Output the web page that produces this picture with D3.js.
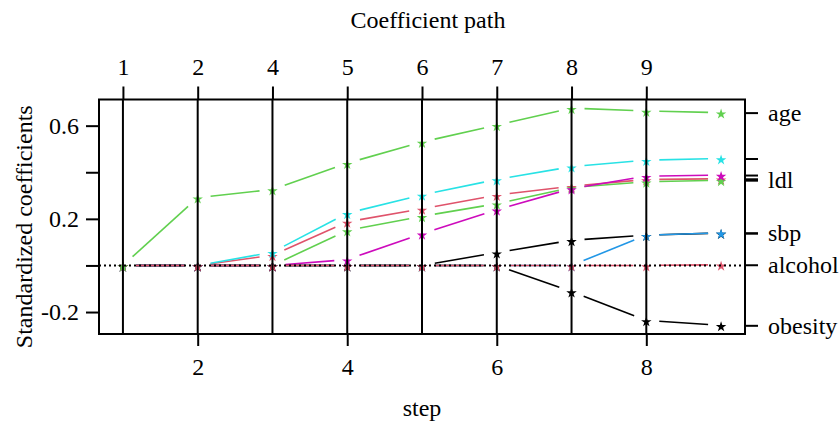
<!DOCTYPE html>
<html>
<head>
<meta charset="utf-8">
<script src="https://cdn.jsdelivr.net/npm/d3@7"></script>
<style>
  body { margin: 0; background: #fff; }
  svg text { font-family: "Liberation Serif", "DejaVu Serif", serif; fill: #000; }
</style>
</head>
<body>
<svg id="chart_svg" width="840" height="423"></svg>
<script>
// lars steps and the coefficient of each variable at every step
const steps = [1, 2, 3, 4, 5, 6, 7, 8, 9];
const topLabels = ["1", "2", "4", "5", "6", "7", "8", "9"];
const bottomTicks = [2, 4, 6, 8];
const yTicks = [-0.2, 0, 0.2, 0.4, 0.6];
const yLabels = [-0.2, 0.2, 0.6];

const varNames = ["sbp", "tobacco", "ldl", "adiposity", "famhist", "typea", "obesity", "alcohol", "age"];
const sbp       = [0, 0, 0, 0, 0, 0.055, 0.108, 0.130, 0.139];
const tobacco   = [0, 0, 0.044, 0.187, 0.243, 0.302, 0.340, 0.369, 0.372];
const ldl       = [0, 0, 0, 0.150, 0.211, 0.265, 0.335, 0.359, 0.366];
const adiposity = [0, 0, 0, 0, 0, 0, 0, 0.130, 0.140];
const famhist   = [0, 0, 0.057, 0.224, 0.303, 0.369, 0.424, 0.452, 0.459];
const typea     = [0, 0, 0, 0.025, 0.136, 0.239, 0.330, 0.383, 0.388];
const obesity   = [0, 0, 0, 0, 0, 0, -0.112, -0.236, -0.257];
const alcohol   = [0, 0, 0, 0, 0, 0, 0, 0, 0.003];
const age       = [0, 0.291, 0.326, 0.439, 0.530, 0.602, 0.675, 0.663, 0.656];
const shownLabels = ["age", "ldl", "sbp", "alcohol", "obesity"];

// R 4 default palette, cycled like matplot
const palette = ["#000000", "#DF536B", "#61D04F", "#2297E6", "#28E2E5", "#CD0BBC"];

class HandleSvg {
  constructor() {
    this.svg = d3.select("#chart_svg");
    this.left = 99;
    this.right = 745;
    this.top = 99.5;
    this.bottom = 334;
    this.fontSize = '24px';
  }

  makeScales(series) {
    // R style 4% padding of the data range
    let xr = d3.extent(steps);
    let xp = (xr[1] - xr[0]) * 0.04;
    this.x = d3.scaleLinear()
      .domain([xr[0] - xp, xr[1] + xp])
      .range([this.left, this.right]);

    let all = series.flatMap(s => s.values);
    let yr = d3.extent(all);
    let yp = (yr[1] - yr[0]) * 0.04;
    this.y = d3.scaleLinear()
      .domain([yr[0] - yp, yr[1] + yp])
      .range([this.bottom, this.top]);
  }

  drawAxes(series) {
    let svg = this.svg;
    let x = this.x;
    let y = this.y;

    // vertical step lines
    svg.append('g').selectAll('line')
      .data(steps.slice(0, topLabels.length))
      .enter().append('line')
      .attr('x1', d => x(d)).attr('x2', d => x(d))
      .attr('y1', this.top).attr('y2', this.bottom)
      .attr('stroke', '#000').attr('stroke-width', 2);

    // top axis
    let top = svg.append('g')
      .attr('transform', `translate(0, ${this.top})`)
      .call(d3.axisTop(x).tickValues(steps.slice(0, topLabels.length))
        .tickFormat((d, i) => topLabels[i]).tickSize(13).tickPadding(12));

    // bottom axis
    let bottom = svg.append('g')
      .attr('transform', `translate(0, ${this.bottom})`)
      .call(d3.axisBottom(x).tickValues(bottomTicks).tickFormat(d3.format('d'))
        .tickSize(12).tickPadding(12));

    // left axis
    let left = svg.append('g')
      .attr('transform', `translate(${this.left}, 0)`)
      .call(d3.axisLeft(y).tickValues(yTicks)
        .tickFormat(d => yLabels.includes(d) ? d3.format('.1f')(d).replace('−', '-') : '')
        .tickSize(13).tickPadding(7));

    // right axis: one tick per variable at its last value
    let last = series.map(s => s.values[s.values.length - 1]);
    let right = svg.append('g')
      .attr('transform', `translate(${this.right}, 0)`)
      .call(d3.axisRight(y).tickValues(last)
        .tickFormat((d, i) => shownLabels.includes(series[i].name) ? series[i].name : '')
        .tickSize(13).tickPadding(10));

    [top, bottom, left, right].forEach(g => {
      g.select('.domain').remove();
      g.selectAll('line').attr('stroke', '#000').attr('stroke-width', 2);
      g.selectAll('text').attr('font-size', this.fontSize)
        .attr('font-family', '"Liberation Serif", serif');
    });

    // box
    svg.append('rect')
      .attr('x', this.left).attr('y', this.top)
      .attr('width', this.right - this.left)
      .attr('height', this.bottom - this.top)
      .attr('fill', 'none').attr('stroke', '#000').attr('stroke-width', 2);

    let cx = (this.left + this.right) / 2;
    svg.append('text')
      .attr('x', cx + 6).attr('y', 28)
      .attr('text-anchor', 'middle').attr('font-size', this.fontSize)
      .text('Coefficient path');

    svg.append('text')
      .attr('x', cx).attr('y', 416)
      .attr('text-anchor', 'middle').attr('font-size', this.fontSize)
      .text('step');

    svg.append('text')
      .attr('transform', `translate(32, ${(this.top + this.bottom) / 2 + 10}) rotate(-90)`)
      .attr('text-anchor', 'middle').attr('font-size', this.fontSize)
      .text('Standardized coefficients');
  }

  drawPaths(series) {
    let svg = this.svg;
    let x = this.x;
    let y = this.y;
    let gap = 13;

    let g = svg.append('g');
    series.forEach(s => {
      let pts = s.values.map((v, i) => [x(steps[i]), y(v)]);
      let segs = [];
      for (let i = 0; i < pts.length - 1; i++) {
        let dx = pts[i + 1][0] - pts[i][0];
        let dy = pts[i + 1][1] - pts[i][1];
        let len = Math.sqrt(dx * dx + dy * dy);
        if (len <= 2 * gap) continue;
        let ux = dx / len, uy = dy / len;
        segs.push([pts[i][0] + ux * gap, pts[i][1] + uy * gap,
                   pts[i + 1][0] - ux * gap, pts[i + 1][1] - uy * gap]);
      }
      g.append('g').selectAll('line')
        .data(segs)
        .enter().append('line')
        .attr('x1', d => d[0]).attr('y1', d => d[1])
        .attr('x2', d => d[2]).attr('y2', d => d[3])
        .attr('stroke', s.color).attr('stroke-width', 1.6);

      g.append('g').selectAll('path')
        .data(pts)
        .enter().append('path')
        .attr('d', d3.symbol(d3.symbolStar).size(34))
        .attr('transform', d => `translate(${d[0]}, ${d[1] + 1.5})`)
        .attr('fill', s.color);
    });

    // zero reference line
    svg.append('line')
      .attr('x1', this.left).attr('x2', this.right)
      .attr('y1', y(0)).attr('y2', y(0))
      .attr('stroke', '#000').attr('stroke-width', 2)
      .attr('stroke-dasharray', '2,3');
  }
}

let series = [sbp, tobacco, ldl, adiposity, famhist, typea, obesity, alcohol, age]
  .map((values, i) => ({ name: varNames[i], values: values, color: palette[i % palette.length] }));

let chart = new HandleSvg();
chart.makeScales(series);
chart.drawPaths(series);
chart.drawAxes(series);
</script>
</body>
</html>
